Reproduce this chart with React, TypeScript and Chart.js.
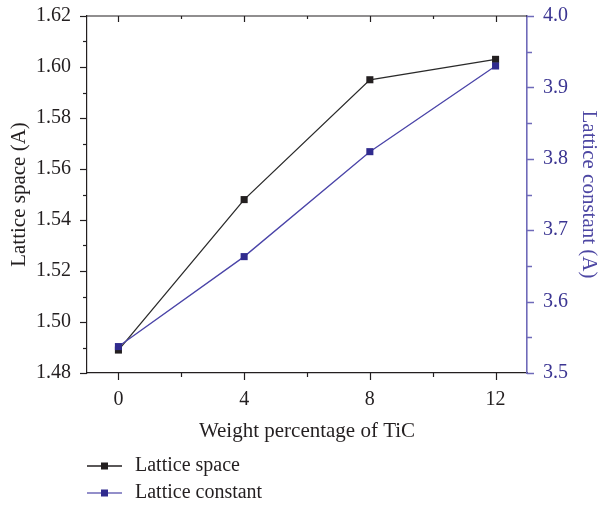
import React, { useEffect, useRef } from 'react';
import { Chart, registerables } from 'chart.js';

Chart.register(...registerables);

// ---- data ----
const weights = [0, 4, 8, 12];
const latticeSpace = [1.489, 1.548, 1.595, 1.603];
const latticeConstant = [3.537, 3.663, 3.81, 3.93];
const seriesNames = ['Lattice space', 'Lattice constant'];

const xMajorTicks = [0, 4, 8, 12];
const xMinorTicks = [2, 6, 10];
const leftMajorTicks = [1.48, 1.5, 1.52, 1.54, 1.56, 1.58, 1.6, 1.62];
const leftMinorTicks = [1.49, 1.51, 1.53, 1.55, 1.57, 1.59, 1.61];
const rightMajorTicks = [3.5, 3.6, 3.7, 3.8, 3.9, 4.0];
const rightMinorTicks = [3.55, 3.65, 3.75, 3.85, 3.95];

const FONT = "'Liberation Serif', 'Times New Roman', serif";
const BLACK = '#231f20';
const BLUE_MARK = '#302b8e';
const BLUE_LINE = '#4a44a8';
const PURPLE_AXIS = '#6f6ab9';
const PURPLE_TEXT = '#3b3592';

const tickPlugin = {
  id: 'customTicks',
  afterDraw(chart: any) {
    const { ctx, chartArea } = chart;
    const x = chart.scales.x;
    const y = chart.scales.y;
    const y1 = chart.scales.y1;
    ctx.save();
    ctx.lineWidth = 1.2;
    ctx.strokeStyle = BLACK;
    ctx.beginPath();
    ctx.moveTo(chartArea.left, chartArea.top);
    ctx.lineTo(chartArea.right, chartArea.top);
    ctx.stroke();
    const line = (x0: number, y0: number, x1: number, y1v: number) => {
      ctx.beginPath();
      ctx.moveTo(x0, y0);
      ctx.lineTo(x1, y1v);
      ctx.stroke();
    };
    xMajorTicks.forEach((v) => {
      const px = Math.round(x.getPixelForValue(v)) + 0.5;
      line(px, chartArea.bottom, px, chartArea.bottom + 7);
      line(px, chartArea.top, px, chartArea.top + 6);
    });
    xMinorTicks.forEach((v) => {
      const px = Math.round(x.getPixelForValue(v)) + 0.5;
      line(px, chartArea.bottom, px, chartArea.bottom + 4);
      line(px, chartArea.top, px, chartArea.top + 3);
    });
    leftMajorTicks.forEach((v) => {
      const py = Math.round(y.getPixelForValue(v)) + 0.5;
      line(chartArea.left, py, chartArea.left - 7, py);
    });
    leftMinorTicks.forEach((v) => {
      const py = Math.round(y.getPixelForValue(v)) + 0.5;
      line(chartArea.left, py, chartArea.left - 4, py);
    });
    ctx.strokeStyle = PURPLE_AXIS;
    ctx.lineWidth = 1.5;
    rightMajorTicks.forEach((v) => {
      const py = Math.round(y1.getPixelForValue(v)) + 0.5;
      line(chartArea.right, py, chartArea.right + 7, py);
    });
    rightMinorTicks.forEach((v) => {
      const py = Math.round(y1.getPixelForValue(v)) + 0.5;
      line(chartArea.right, py, chartArea.right + 5, py);
    });
    ctx.restore();
  },
};

const legendPlugin = {
  id: 'customLegend',
  afterDraw(chart: any) {
    const { ctx } = chart;
    const ds = chart.data.datasets;
    ctx.save();
    ds.forEach((d: any, i: number) => {
      const cy = 466 + i * 27;
      ctx.strokeStyle = i === 0 ? BLACK : PURPLE_AXIS;
      ctx.lineWidth = 1.5;
      ctx.beginPath();
      ctx.moveTo(87, cy);
      ctx.lineTo(122, cy);
      ctx.stroke();
      ctx.fillStyle = d.pointBackgroundColor;
      ctx.fillRect(101, cy - 3.5, 7, 7);
      ctx.fillStyle = BLACK;
      ctx.font = `20px ${FONT}`;
      ctx.textBaseline = 'middle';
      ctx.textAlign = 'left';
      ctx.fillText(d.label, 135, cy);
    });
    ctx.restore();
  },
};

const zeroPad = (s: any) => {
  s.paddingTop = 0;
  s.paddingBottom = 0;
  s.paddingLeft = 0;
  s.paddingRight = 0;
};

export default function App() {
  const ref = useRef<HTMLCanvasElement | null>(null);
  useEffect(() => {
    document.body.style.margin = '0';
    if (!ref.current) return;
    Chart.defaults.font.family = FONT;
    const chart = new Chart(ref.current, {
      type: 'line',
      data: {
        datasets: [
          {
            label: seriesNames[0],
            data: weights.map((w, i) => ({ x: w, y: latticeSpace[i] })),
            yAxisID: 'y',
            borderColor: '#2a2a2a',
            borderWidth: 1.3,
            pointStyle: 'rect',
            pointRadius: 5,
            pointBorderWidth: 0,
            pointBackgroundColor: BLACK,
            order: 1,
          },
          {
            label: seriesNames[1],
            data: weights.map((w, i) => ({ x: w, y: latticeConstant[i] })),
            yAxisID: 'y1',
            borderColor: BLUE_LINE,
            borderWidth: 1.3,
            pointStyle: 'rect',
            pointRadius: 5,
            pointBorderWidth: 0,
            pointBackgroundColor: BLUE_MARK,
            order: 0,
          },
        ],
      },
      options: {
        animation: false,
        responsive: false,
        layout: { padding: { top: 16, left: 0, right: 0, bottom: 0 } },
        plugins: { legend: { display: false }, tooltip: { enabled: false } },
        scales: {
          x: {
            type: 'linear',
            position: 'bottom',
            min: -1,
            max: 13,
            afterBuildTicks: (s: any) => {
              s.ticks = xMajorTicks.map((v) => ({ value: v }));
            },
            afterFit: (s: any) => {
              s.height = 133;
              zeroPad(s);
            },
            grid: { display: false, drawTicks: false },
            border: { display: true, color: BLACK, width: 1.2 },
            ticks: {
              padding: 15,
              color: BLACK,
              font: { size: 20, family: FONT },
              maxRotation: 0,
              callback: (v: any) => String(v),
            },
            title: {
              display: true,
              text: 'Weight percentage of TiC',
              color: BLACK,
              font: { size: 21, family: FONT },
              padding: { top: 0, bottom: 62 },
            },
          },
          y: {
            type: 'linear',
            position: 'left',
            min: 1.48,
            max: 1.62,
            afterBuildTicks: (s: any) => {
              s.ticks = leftMajorTicks.map((v) => ({ value: v }));
            },
            afterFit: (s: any) => {
              s.width = 87;
              zeroPad(s);
            },
            grid: { display: false, drawTicks: false },
            border: { display: true, color: BLACK, width: 1.2 },
            ticks: {
              padding: 16,
              color: BLACK,
              font: { size: 20, family: FONT },
              callback: (v: any) => Number(v).toFixed(2),
            },
            title: {
              display: true,
              text: 'Lattice space (A)',
              color: BLACK,
              font: { size: 21, family: FONT },
              padding: { top: 7, bottom: 0 },
            },
          },
          y1: {
            type: 'linear',
            position: 'right',
            min: 3.5,
            max: 4.0,
            afterBuildTicks: (s: any) => {
              s.ticks = rightMajorTicks.map((v) => ({ value: v }));
            },
            afterFit: (s: any) => {
              s.width = 73;
              zeroPad(s);
            },
            grid: { display: false, drawTicks: false },
            border: { display: true, color: PURPLE_AXIS, width: 1.6 },
            ticks: {
              padding: 16,
              color: PURPLE_TEXT,
              font: { size: 20, family: FONT },
              callback: (v: any) => Number(v).toFixed(1),
            },
            title: {
              display: true,
              text: 'Lattice constant (A)',
              color: '#4d47a3',
              font: { size: 21, family: FONT },
              padding: { top: -1, bottom: 0 },
            },
          },
        },
      },
      plugins: [tickPlugin, legendPlugin],
    } as any);
    return () => chart.destroy();
  }, []);
  return (
    <div style={{ width: 600, height: 506 }}>
      <canvas ref={ref} width={600} height={506} style={{ display: 'block' }} />
    </div>
  );
}
